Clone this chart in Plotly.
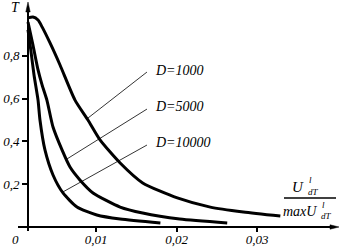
import plotly.graph_objects as go

# ---- data ----
x_d1000 = [0.00155, 0.00217, 0.0028, 0.0033, 0.00429, 0.00553, 0.00739, 0.0090, 0.0105, 0.0130,
           0.0158, 0.0201, 0.0242, 0.0283, 0.0329]
t_d1000 = [0.977, 0.981, 0.967, 0.935, 0.860, 0.757, 0.593, 0.500, 0.407, 0.299,
           0.206, 0.136, 0.093, 0.070, 0.051]

x_d5000 = [0.00155, 0.00217, 0.0028, 0.0033, 0.0039, 0.00466, 0.00578, 0.00677, 0.0080, 0.00963,
           0.0130, 0.0158, 0.0204, 0.0263]
t_d5000 = [0.958, 0.850, 0.734, 0.664, 0.593, 0.467, 0.360, 0.280, 0.220, 0.159,
           0.093, 0.065, 0.037, 0.019]

x_d10000 = [0.00155, 0.0019, 0.0023, 0.0028, 0.00304, 0.00366, 0.00466, 0.0059, 0.00764, 0.0101,
            0.0130, 0.0180]
t_d10000 = [0.921, 0.827, 0.710, 0.593, 0.500, 0.360, 0.243, 0.159, 0.093, 0.056,
            0.037, 0.019]

series_names = ["D=1000", "D=5000", "D=10000"]
x_ticks = [0.01, 0.02, 0.03]
x_ticktext = ["0,01", "0,02", "0,03"]
y_ticks = [0.2, 0.4, 0.6, 0.8]
y_ticktext = ["0,2", "0,4", "0,6", "0,8"]

# label anchor (data) and leader end on curve (data)
label_pos = [(0.01708, 0.729), (0.01708, 0.561), (0.01708, 0.397)]
leader_start = [(0.01633, 0.724), (0.01633, 0.551), (0.01633, 0.383)]
leader_end = [(0.0090, 0.509), (0.0064, 0.318), (0.0059, 0.164)]

W, H = 339, 248
X0_PX, X_SCALE = 15.5, 8050.0   # px of x=0, px per unit
Y0_PX, Y_SCALE = 227.0, 214.0   # px of T=0, px per unit
xr = [(0 - X0_PX) / X_SCALE, (W - X0_PX) / X_SCALE]
yr = [(Y0_PX - H) / Y_SCALE, Y0_PX / Y_SCALE]
Y_AXIS_PX = 28.0
y_axis_x = (Y_AXIS_PX - X0_PX) / X_SCALE

FONT = "Liberation Serif"

def pfont(size):
    return dict(family=FONT, size=size, color="black", style="italic")

def px(x):
    return x / W

def py(y):
    return 1 - y / H

fig = go.Figure()
for xs, ts, nm in zip([x_d1000, x_d5000, x_d10000], [t_d1000, t_d5000, t_d10000], series_names):
    fig.add_trace(go.Scatter(x=xs, y=ts, mode="lines", name=nm,
                             line=dict(color="black", width=3, shape="spline", smoothing=0.6),
                             showlegend=False, hoverinfo="skip"))

shapes = []
# axes lines
shapes.append(dict(type="line", xref="paper", yref="paper", x0=px(18), x1=px(334),
                   y0=py(Y0_PX), y1=py(Y0_PX), line=dict(color="black", width=2)))
shapes.append(dict(type="line", xref="paper", yref="paper", x0=px(Y_AXIS_PX), x1=px(Y_AXIS_PX),
                   y0=py(231), y1=py(8), line=dict(color="black", width=2)))
# arrowheads
shapes.append(dict(type="path", xref="paper", yref="paper",
                   path=f"M {px(339)} {py(Y0_PX)} L {px(330)} {py(Y0_PX - 2.2)} L {px(330)} {py(Y0_PX + 2.2)} Z",
                   fillcolor="black", line=dict(color="black", width=0.5)))
shapes.append(dict(type="path", xref="paper", yref="paper",
                   path=f"M {px(Y_AXIS_PX)} {py(2)} L {px(Y_AXIS_PX - 2.2)} {py(12)} L {px(Y_AXIS_PX + 2.2)} {py(12)} Z",
                   fillcolor="black", line=dict(color="black", width=0.5)))
for (xa, ya), (xb, yb) in zip(leader_start, leader_end):
    shapes.append(dict(type="line", xref="x", yref="y", x0=xa, y0=ya, x1=xb, y1=yb,
                       line=dict(color="black", width=0.8)))
# fraction bar
shapes.append(dict(type="line", xref="paper", yref="paper", x0=px(284), x1=px(336),
                   y0=py(198), y1=py(198), line=dict(color="black", width=1.3)))

annotations = []
for (lx, ly), nm in zip(label_pos, series_names):
    annotations.append(dict(x=lx, y=ly, xref="x", yref="y", text=nm, showarrow=False,
                            xanchor="left", yanchor="middle", font=pfont(14)))
annotations.append(dict(x=0, y=(Y0_PX - 239) / Y_SCALE, xref="x", yref="y", text="0",
                        showarrow=False, xanchor="center", yanchor="middle", font=pfont(13)))
annotations.append(dict(x=px(15), y=py(8), xref="paper", yref="paper", text="T",
                        showarrow=False, xanchor="center", yanchor="middle", font=pfont(14)))
# numerator
annotations.append(dict(x=px(306), y=py(187), xref="paper", yref="paper", text="U",
                        showarrow=False, xanchor="right", yanchor="middle", font=pfont(15)))
annotations.append(dict(x=px(307), y=py(180), xref="paper", yref="paper", text="l",
                        showarrow=False, xanchor="left", yanchor="middle", font=pfont(9)))
annotations.append(dict(x=px(306), y=py(192), xref="paper", yref="paper", text="dT",
                        showarrow=False, xanchor="left", yanchor="middle", font=pfont(9)))
# denominator
annotations.append(dict(x=px(319), y=py(211), xref="paper", yref="paper", text="maxU",
                        showarrow=False, xanchor="right", yanchor="middle", font=pfont(14)))
annotations.append(dict(x=px(320), y=py(205), xref="paper", yref="paper", text="l",
                        showarrow=False, xanchor="left", yanchor="middle", font=pfont(9)))
annotations.append(dict(x=px(319), y=py(216), xref="paper", yref="paper", text="dT",
                        showarrow=False, xanchor="left", yanchor="middle", font=pfont(9)))

fig.update_layout(
    width=W, height=H, margin=dict(l=0, r=0, t=0, b=0, autoexpand=False),
    paper_bgcolor="white", plot_bgcolor="white",
    xaxis=dict(range=xr, anchor="free", position=(H - Y0_PX) / H, showgrid=False, zeroline=False,
               automargin=False, domain=[0, 1], ticklabelstandoff=-4,
               showline=False, ticks="outside", ticklen=4, tickwidth=1.5, tickcolor="black",
               tickvals=x_ticks, ticktext=x_ticktext, tickfont=pfont(13)),
    yaxis=dict(range=yr, anchor="free", position=(y_axis_x - xr[0]) / (xr[1] - xr[0]),
               automargin=False, domain=[0, 1],
               showgrid=False, zeroline=False, showline=False, ticks="outside", ticklen=6,
               tickwidth=1.5, tickcolor="black", tickvals=y_ticks, ticktext=y_ticktext,
               tickfont=pfont(13)),
    shapes=shapes, annotations=annotations,
)
fig.write_html("out.html", config={"displayModeBar": False},
               post_script="document.body.style.margin='0';document.body.style.padding='0';")
